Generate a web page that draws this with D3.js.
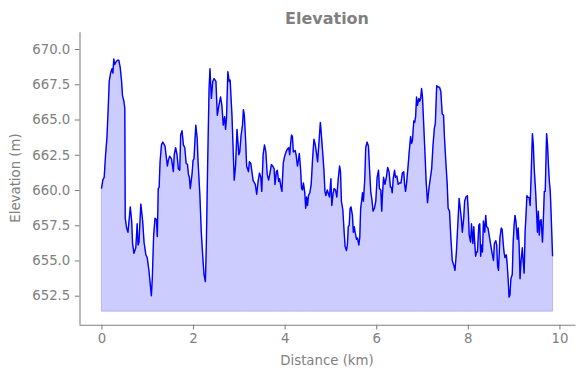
<!DOCTYPE html>
<html>
<head>
<meta charset="utf-8">
<script src="https://cdn.jsdelivr.net/npm/d3@7"></script>
<style>
    body { margin: 0; background: #fff; }
    #elevationVis { width: 584px; height: 378px; }
    text { font-family: "DejaVu Sans", sans-serif; fill: #808080; }
</style>
</head>
<body>
<div id="elevationVis"></div>
<script>

// distance along the track (km)
const distanceKm = [
    0.00, 0.03, 0.06, 0.09, 0.12, 0.15, 0.17, 0.20, 0.23, 0.25, 0.27, 0.29, 0.32, 0.35, 0.38, 0.41,
    0.44, 0.46, 0.49, 0.51, 0.52, 0.55, 0.58, 0.63, 0.66, 0.68, 0.71, 0.75, 0.78, 0.80, 0.82, 0.86,
    0.90, 0.93, 0.97, 1.00, 1.04, 1.06, 1.09, 1.11, 1.14, 1.17, 1.20, 1.22, 1.24, 1.26, 1.28, 1.31,
    1.34, 1.39, 1.41, 1.44, 1.46, 1.49, 1.53, 1.57, 1.59, 1.62, 1.65, 1.68, 1.71, 1.73, 1.76, 1.79,
    1.82, 1.85, 1.88, 1.90, 1.92, 1.94, 1.98, 2.00, 2.02, 2.04, 2.06, 2.09, 2.11, 2.15, 2.18, 2.22,
    2.24, 2.27, 2.29, 2.32, 2.35, 2.37, 2.40, 2.43, 2.46,
    2.50, 2.53, 2.56, 2.60, 2.63, 2.66, 2.69, 2.71, 2.73, 2.76, 2.79, 2.81, 2.85, 2.88, 2.90, 2.93,
    2.96, 2.98, 3.00, 3.02, 3.05, 3.08, 3.10, 3.12, 3.15, 3.17, 3.19, 3.21, 3.23, 3.26, 3.29, 3.31,
    3.34, 3.36, 3.39, 3.42, 3.45, 3.48, 3.50, 3.53, 3.56, 3.59, 3.62, 3.65, 3.68, 3.71, 3.74, 3.77,
    3.79, 3.82, 3.84, 3.87, 3.89, 3.92, 3.94, 3.97, 4.00, 4.03, 4.06, 4.09, 4.11, 4.13, 4.15, 4.17,
    4.19, 4.23, 4.25, 4.28, 4.30, 4.32, 4.35, 4.37, 4.39, 4.41, 4.44, 4.46, 4.48, 4.50, 4.52, 4.55,
    4.58, 4.61, 4.64, 4.67, 4.70, 4.72, 4.75, 4.78, 4.80, 4.83, 4.86, 4.88, 4.90, 4.93,
    4.98, 5.01, 5.03, 5.06, 5.08, 5.11, 5.14, 5.17, 5.20, 5.22, 5.24, 5.27, 5.30, 5.32, 5.35, 5.37,
    5.39, 5.41, 5.43, 5.45, 5.48, 5.50, 5.52, 5.54, 5.57, 5.59, 5.62, 5.64, 5.66, 5.68, 5.70, 5.72,
    5.75, 5.77, 5.80, 5.83, 5.86, 5.88, 5.91, 5.93, 5.96, 5.99, 6.02, 6.05, 6.07, 6.10, 6.12, 6.14,
    6.16, 6.19, 6.22, 6.25, 6.28, 6.31, 6.33, 6.35, 6.37, 6.40, 6.42, 6.45, 6.48, 6.51, 6.54, 6.57,
    6.60, 6.62, 6.64, 6.66, 6.69, 6.72, 6.75, 6.77, 6.79, 6.82, 6.84, 6.86, 6.88, 6.90, 6.93, 6.95,
    6.97, 6.99, 7.01, 7.04, 7.07, 7.09, 7.12, 7.15, 7.18, 7.21, 7.24, 7.27, 7.29, 7.32, 7.35, 7.38,
    7.41, 7.44, 7.47,
    7.49, 7.52, 7.55, 7.57, 7.60, 7.63, 7.66, 7.69, 7.72, 7.75, 7.78, 7.81, 7.84, 7.86, 7.88, 7.91,
    7.93, 7.96, 7.99, 8.01, 8.03, 8.06, 8.08, 8.11, 8.13, 8.15, 8.17, 8.19, 8.21, 8.24, 8.26, 8.28,
    8.30, 8.32, 8.34, 8.37, 8.39, 8.41, 8.44, 8.47, 8.50, 8.53, 8.56, 8.58, 8.61, 8.63, 8.65, 8.67,
    8.70, 8.73, 8.75, 8.77, 8.79, 8.81, 8.84, 8.86, 8.88, 8.90, 8.92, 8.94, 8.97, 8.99, 9.01, 9.03,
    9.05, 9.08, 9.10, 9.12, 9.14, 9.16, 9.19, 9.21, 9.23, 9.25, 9.27, 9.29, 9.31, 9.34, 9.36, 9.38,
    9.41, 9.43, 9.45, 9.48, 9.50, 9.52, 9.54, 9.56, 9.58, 9.60, 9.63, 9.65, 9.67, 9.69, 9.72, 9.74,
    9.76, 9.78, 9.80, 9.82, 9.85
];

// elevation at each distance (m)
const elevationM = [
    660.1, 660.7, 660.9, 662.5, 663.7, 666.0, 667.7, 668.3, 668.6, 668.3, 669.3, 668.9, 669.1, 669.2, 669.2, 668.7,
    667.7, 666.7, 666.3, 665.8, 658.0, 657.3, 657.0, 658.8, 657.8, 656.2, 655.5, 655.9, 657.6, 656.1, 656.3, 659.0,
    657.8, 656.3, 655.4, 655.2, 654.2, 653.5, 652.5, 653.7, 656.8, 658.0, 657.9, 656.7, 660.1, 660.2, 662.0, 663.2,
    663.4, 663.1, 662.5, 661.7, 662.1, 662.4, 662.2, 661.3, 662.5, 663.0, 662.5, 661.5, 661.4, 663.9, 664.2, 663.2,
    663.0, 661.9, 661.8, 661.1, 660.9, 660.1, 661.2, 662.1, 662.2, 663.4, 664.6, 663.7, 662.0, 659.6, 657.0, 654.9,
    654.0, 653.5, 656.1, 662.0, 667.2, 668.6, 666.5, 667.7, 667.9,
    667.7, 665.3, 665.9, 666.6, 666.0, 664.6, 665.2, 664.3, 665.1, 668.4, 667.7, 667.8, 665.3, 662.5, 660.7, 661.8,
    664.3, 663.4, 662.5, 662.7, 663.9, 664.6, 665.7, 665.3, 663.4, 661.7, 661.5, 661.3, 662.0, 661.9, 661.2, 660.7,
    660.5, 660.4, 659.7, 660.6, 661.2, 660.9, 659.9, 662.5, 663.2, 662.7, 661.1, 660.7, 661.2, 661.8, 661.7, 661.5,
    660.4, 661.3, 661.4, 660.6, 660.8, 660.2, 659.9, 661.9, 662.4, 662.7, 662.9, 663.0, 662.5, 663.3, 663.9, 663.8,
    662.7, 662.8, 662.5, 661.7, 662.1, 662.6, 661.4, 660.1, 660.0, 660.5, 659.8, 658.7, 659.5, 658.9, 659.6, 659.8,
    660.4, 662.2, 663.6, 663.2, 662.5, 662.0, 663.4, 664.8, 664.0, 662.7, 661.3, 659.9, 659.6, 660.0,
    659.5, 660.8, 658.9, 659.8, 660.1, 660.0, 659.5, 660.8, 661.7, 661.3, 659.2, 658.6, 657.0, 656.0, 655.7, 656.1,
    657.4, 657.5, 658.7, 658.8, 658.2, 657.0, 657.4, 657.0, 656.5, 656.6, 656.1, 656.6, 658.7, 659.2, 659.8, 659.2,
    660.8, 663.0, 663.4, 663.1, 661.1, 659.9, 659.2, 658.5, 658.7, 659.2, 660.9, 661.4, 660.1, 660.0, 658.5, 659.9,
    660.9, 660.4, 660.9, 661.6, 661.3, 660.2, 660.2, 659.8, 660.8, 661.4, 660.9, 661.0, 660.4, 660.5, 660.5, 661.2,
    661.3, 660.4, 659.9, 660.4, 661.5, 662.7, 663.8, 663.3, 663.5, 664.9, 664.8, 665.2, 666.6, 666.0, 666.5, 666.3,
    666.5, 667.2, 666.6, 664.4, 662.2, 660.6, 659.1, 660.1, 660.8, 661.5, 663.2, 664.4, 664.7, 667.4, 667.3, 667.3,
    667.0, 665.4, 665.3,
    663.7, 662.0, 660.4, 658.7, 658.5, 656.6, 655.0, 654.7, 654.3, 655.6, 657.5, 659.4, 658.5, 657.9, 657.0, 658.0,
    659.2, 659.5, 659.6, 658.5, 656.8, 656.3, 657.6, 656.2, 657.4, 656.3, 655.3, 655.6, 655.6, 657.5, 657.6, 655.3,
    656.1, 655.6, 657.8, 657.0, 658.2, 657.4, 657.3, 656.7, 656.1, 655.5, 655.0, 656.2, 656.4, 656.1, 654.6, 654.3,
    656.6, 657.3, 657.2, 656.3, 655.6, 655.2, 655.4, 654.7, 653.7, 652.4, 652.55, 653.7, 654.0, 656.3, 657.5, 658.2,
    657.8, 656.5, 657.3, 656.1, 653.7, 654.9, 655.9, 654.9, 654.1, 657.0, 658.2, 659.6, 659.5, 659.45, 658.9, 660.8,
    664.0, 663.2, 661.5, 659.9, 658.5, 657.0, 658.5, 656.8, 657.8, 657.9, 656.3, 658.0, 659.9, 659.9, 664.0, 663.2,
    661.8, 660.6, 659.9, 658.2, 655.3
];

// baseline the area is filled down to (m)
const fillBaseM = 651.4;

// tick labels
const xTicks = [0, 2, 4, 6, 8, 10];
const yTicks = [652.5, 655.0, 657.5, 660.0, 662.5, 665.0, 667.5, 670.0];


class ElevationVis {

    constructor(parentElement) {
        this.parentElement = parentElement;
        this.displayData = [];
        this.initVis();
    }

    initVis() {
        let vis = this;

        vis.width = 584;
        vis.height = 378;

        // plot box (axes limits in px)
        vis.box = {left: 79, right: 575, top: 31.7, bottom: 324.3};

        vis.svg = d3.select('#' + vis.parentElement).append('svg')
            .attr('width', vis.width)
            .attr('height', vis.height);

        vis.x = d3.scaleLinear()
            .domain([-0.49, 10.34])
            .range([vis.box.left, vis.box.right]);

        vis.y = d3.scaleLinear()
            .domain([650.47, 671.23])
            .range([vis.box.bottom, vis.box.top]);

        vis.wrangleData();
    }

    wrangleData() {
        let vis = this;

        vis.displayData = distanceKm.map((d, i) => ({dist: d, elev: elevationM[i]}));

        vis.updateVis();
    }

    updateVis() {
        let vis = this;

        // filled area under the profile
        let area = d3.area()
            .x(d => vis.x(d.dist))
            .y0(vis.y(fillBaseM))
            .y1(d => vis.y(d.elev));

        vis.svg.append('path')
            .datum(vis.displayData)
            .attr('d', area)
            .attr('fill', 'blue')
            .attr('fill-opacity', 0.2)
            .attr('stroke', 'blue')
            .attr('stroke-opacity', 0.2)
            .attr('stroke-width', 1);

        // elevation line
        let line = d3.line()
            .x(d => vis.x(d.dist))
            .y(d => vis.y(d.elev));

        vis.svg.append('path')
            .datum(vis.displayData)
            .attr('d', line)
            .attr('fill', 'none')
            .attr('stroke', 'blue')
            .attr('stroke-width', 1.4)
            .attr('stroke-linejoin', 'round');

        // x axis
        let xAxis = d3.axisBottom(vis.x)
            .tickValues(xTicks)
            .tickFormat(d3.format('d'))
            .tickSize(4.7)
            .tickPadding(4.5)
            .tickSizeOuter(0);

        let gx = vis.svg.append('g')
            .attr('transform', 'translate(0,' + (vis.box.bottom + 0.5) + ')')
            .call(xAxis);

        // y axis
        let yAxis = d3.axisLeft(vis.y)
            .tickValues(yTicks)
            .tickFormat(d3.format('.1f'))
            .tickSize(4.7)
            .tickPadding(4.5)
            .tickSizeOuter(0);

        let gy = vis.svg.append('g')
            .attr('transform', 'translate(' + (vis.box.left + 0.5) + ',0)')
            .call(yAxis);

        [gx, gy].forEach(g => {
            g.select('.domain').attr('stroke', '#808080').attr('stroke-width', 1.07);
            g.selectAll('.tick line').attr('stroke', '#808080').attr('stroke-width', 1.07);
            g.selectAll('.tick text')
                .attr('fill', '#808080')
                .style('font-family', '"DejaVu Sans", sans-serif')
                .style('font-size', '13.3px');
        });

        // titles
        vis.svg.append('text')
            .attr('x', (vis.box.left + vis.box.right) / 2)
            .attr('y', 24)
            .attr('text-anchor', 'middle')
            .style('font-size', '16px')
            .style('font-weight', 'bold')
            .text('Elevation');

        vis.svg.append('text')
            .attr('x', (vis.box.left + vis.box.right) / 2)
            .attr('y', 365)
            .attr('text-anchor', 'middle')
            .style('font-size', '13.3px')
            .text('Distance (km)');

        vis.svg.append('text')
            .attr('transform', 'translate(20,' + (vis.box.top + vis.box.bottom) / 2 + ') rotate(-90)')
            .attr('text-anchor', 'middle')
            .style('font-size', '13.3px')
            .text('Elevation (m)');
    }
}

new ElevationVis('elevationVis');

</script>
</body>
</html>
